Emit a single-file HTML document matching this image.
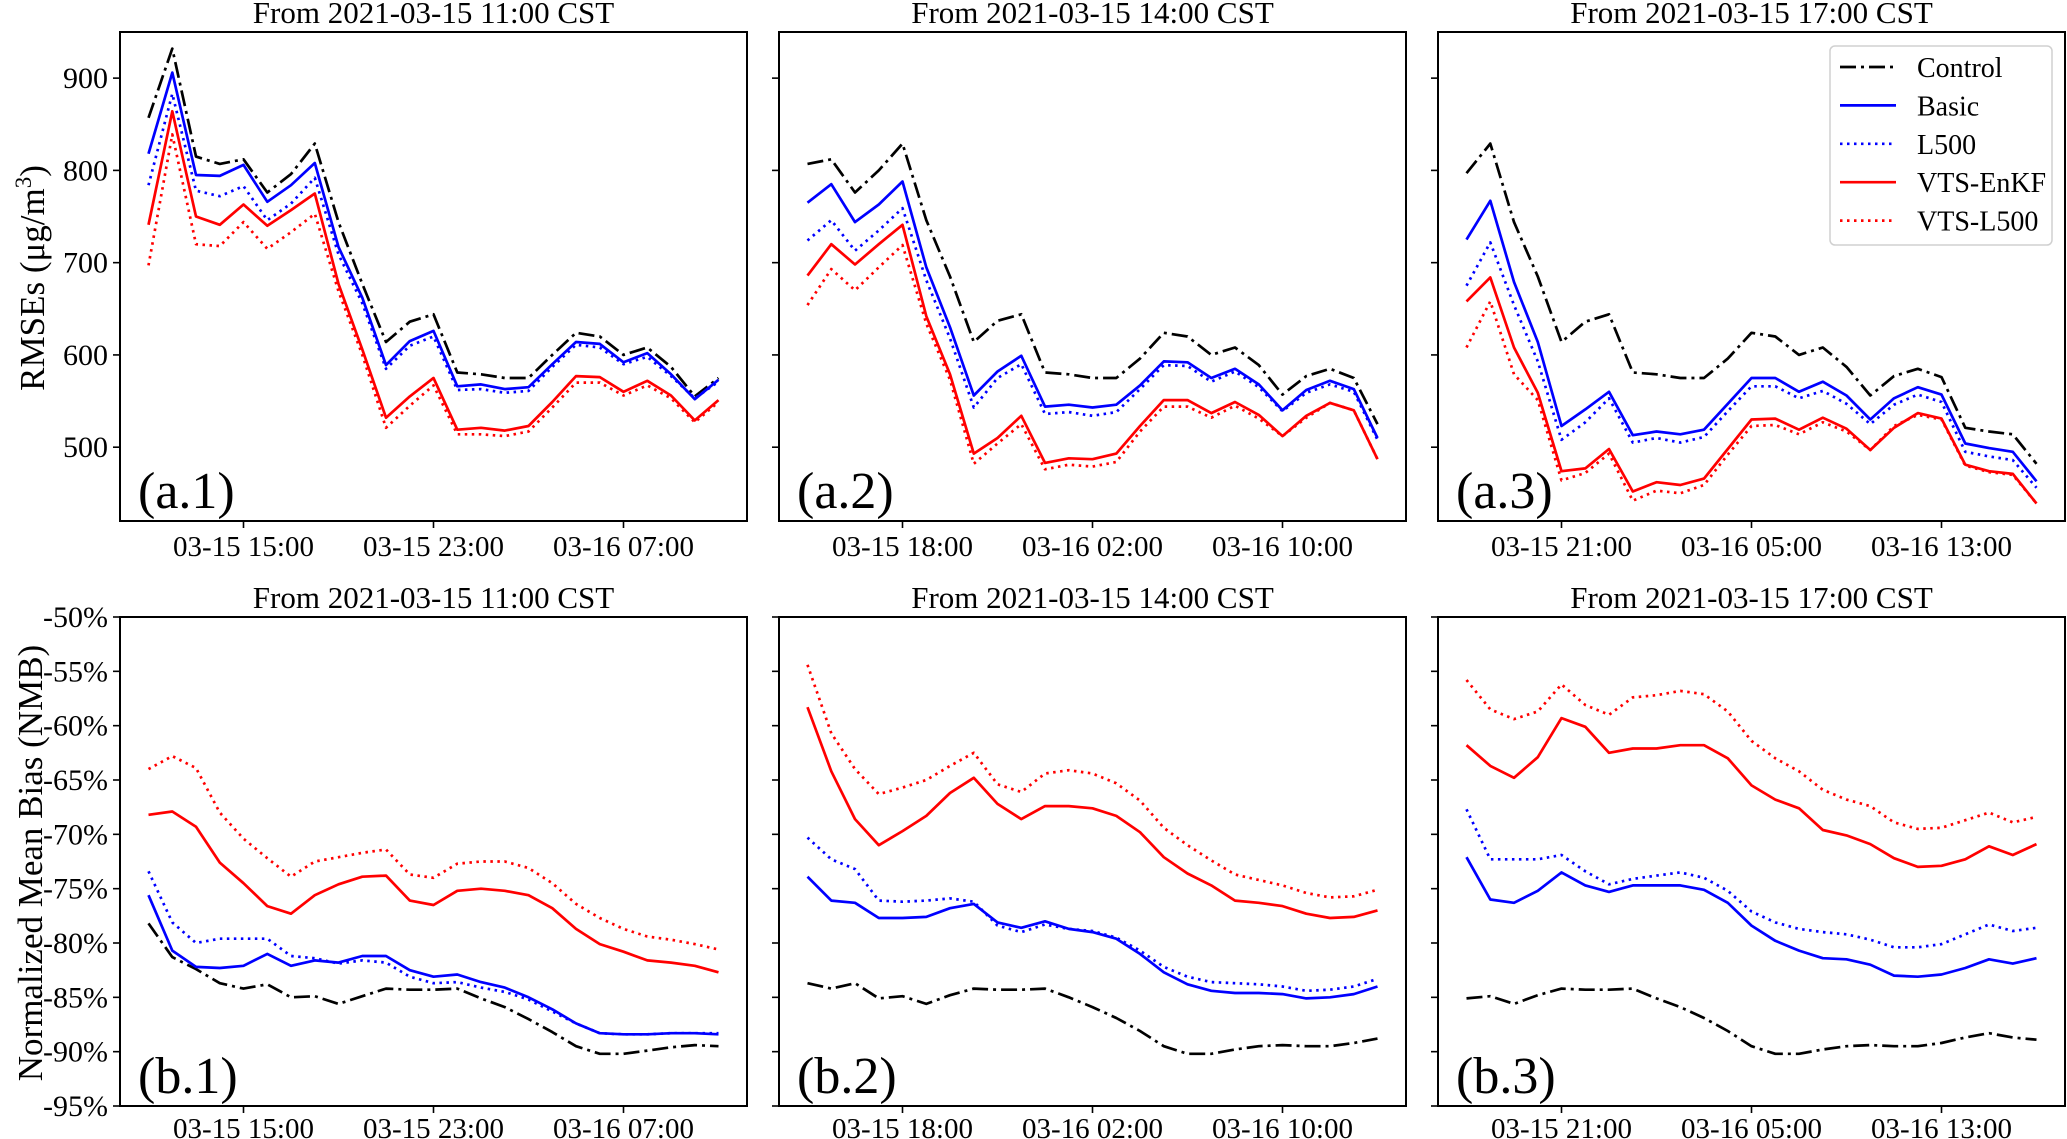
<!DOCTYPE html>
<html><head><meta charset="utf-8"><style>
html,body{margin:0;padding:0;background:#fff;}
svg{display:block;font-family:"Liberation Serif","DejaVu Serif",serif;}
</style></head><body>
<svg id="chart" width="2067" height="1139" viewBox="0 0 2067 1139" xmlns="http://www.w3.org/2000/svg"></svg>
<script>
const seriesNames = ["Control","Basic","L500","VTS-EnKF","VTS-L500"];
const startLabels = ["From 2021-03-15 11:00 CST","From 2021-03-15 14:00 CST","From 2021-03-15 17:00 CST"];
const xTickLabels1 = ["03-15 15:00","03-15 23:00","03-16 07:00"];
const xTickLabels2 = ["03-15 18:00","03-16 02:00","03-16 10:00"];
const xTickLabels3 = ["03-15 21:00","03-16 05:00","03-16 13:00"];
const xTickHours = [4,12,20];
const rmseTicks = [500,600,700,800,900];
const nmbTicks = [-50,-55,-60,-65,-70,-75,-80,-85,-90,-95];

// RMSE panel a.1
const a1Control = [857,932,815,807,812,776,796,829,744,677,614,636,644,581,579,575,575,600,624,620,600,608,587,555,575];
const a1Basic   = [818,906,795,794,806,766,784,808,717,662,589,615,626,566,568,563,565,590,614,612,592,602,579,552,573];
const a1L500    = [784,883,778,772,783,746,764,792,709,656,585,610,620,562,563,559,561,587,611,608,590,598,577,553,571];
const a1VtsEnkf = [741,864,750,741,763,740,757,775,677,606,532,555,575,519,521,518,523,549,577,576,560,572,556,529,551];
const a1VtsL500 = [697,839,720,718,744,715,733,753,669,600,521,545,567,514,514,512,517,543,570,570,556,567,553,527,549];
// RMSE panel a.2
const a2Control = [807,812,776,800,829,746,685,614,637,644,581,579,575,575,596,624,620,600,608,589,557,577,585,575,525];
const a2Basic   = [765,785,744,763,788,695,630,556,582,599,544,546,543,546,567,593,592,575,585,568,540,562,572,563,510];
const a2L500    = [724,746,713,735,759,681,618,543,575,590,536,538,534,538,563,589,588,571,582,565,539,559,568,560,508];
const a2VtsEnkf = [686,720,698,720,741,642,579,493,510,534,483,488,487,493,523,551,551,537,549,535,512,534,548,540,487];
const a2VtsL500 = [654,693,670,695,719,634,573,482,504,525,476,481,479,484,517,544,544,532,545,531,512,532,548,540,487];
// RMSE panel a.3
const a3Control = [797,829,744,685,614,636,644,581,579,575,575,596,624,620,600,608,587,556,577,585,576,521,517,514,482];
const a3Basic   = [725,767,679,614,523,541,560,513,517,514,519,547,575,575,560,571,556,530,553,565,557,504,499,495,463];
const a3L500    = [675,722,654,593,508,527,553,505,510,505,511,539,566,566,553,561,547,525,546,557,549,495,490,486,456];
const a3VtsEnkf = [658,684,608,559,474,477,498,452,462,459,466,498,530,531,519,532,520,497,521,537,531,481,474,471,439];
const a3VtsL500 = [608,658,579,551,464,472,493,442,453,450,459,492,523,524,514,527,517,497,523,535,530,480,473,470,439];
// NMB panel b.1
const b1Control = [-78.2,-81.3,-82.4,-83.7,-84.2,-83.8,-85.0,-84.9,-85.6,-84.9,-84.2,-84.3,-84.3,-84.2,-85.1,-85.9,-87.0,-88.2,-89.5,-90.2,-90.2,-89.9,-89.6,-89.4,-89.5];
const b1Basic   = [-75.6,-80.7,-82.2,-82.3,-82.1,-81.0,-82.1,-81.6,-81.8,-81.2,-81.2,-82.5,-83.1,-82.9,-83.6,-84.1,-85.0,-86.1,-87.4,-88.3,-88.4,-88.4,-88.3,-88.3,-88.4];
const b1L500    = [-73.4,-78.1,-80.0,-79.6,-79.6,-79.6,-81.2,-81.4,-81.9,-81.6,-81.8,-83.1,-83.7,-83.6,-84.1,-84.5,-85.2,-86.3,-87.4,-88.3,-88.4,-88.4,-88.3,-88.3,-88.3];
const b1VtsEnkf = [-68.2,-67.9,-69.3,-72.6,-74.5,-76.6,-77.3,-75.6,-74.6,-73.9,-73.8,-76.1,-76.5,-75.2,-75.0,-75.2,-75.6,-76.8,-78.7,-80.1,-80.8,-81.6,-81.8,-82.1,-82.7];
const b1VtsL500 = [-64.0,-62.8,-63.9,-68.0,-70.4,-72.2,-73.9,-72.5,-72.1,-71.7,-71.4,-73.7,-74.0,-72.7,-72.5,-72.5,-73.1,-74.5,-76.4,-77.7,-78.7,-79.4,-79.7,-80.1,-80.6];
// NMB panel b.2
const b2Control = [-83.7,-84.2,-83.7,-85.1,-84.9,-85.6,-84.8,-84.2,-84.3,-84.3,-84.2,-85.0,-85.9,-86.9,-88.1,-89.5,-90.2,-90.2,-89.8,-89.5,-89.4,-89.5,-89.5,-89.2,-88.8];
const b2Basic   = [-73.9,-76.1,-76.3,-77.7,-77.7,-77.6,-76.8,-76.4,-78.1,-78.6,-78.0,-78.7,-79.0,-79.6,-81.0,-82.7,-83.8,-84.4,-84.6,-84.6,-84.7,-85.1,-85.0,-84.7,-84.0];
const b2L500    = [-70.3,-72.3,-73.2,-76.1,-76.2,-76.1,-75.9,-76.2,-78.4,-79.0,-78.3,-78.7,-78.9,-79.5,-80.7,-82.2,-83.1,-83.6,-83.7,-83.8,-84.0,-84.4,-84.3,-84.0,-83.3];
const b2VtsEnkf = [-58.3,-64.2,-68.6,-71.0,-69.7,-68.3,-66.2,-64.8,-67.2,-68.6,-67.4,-67.4,-67.6,-68.3,-69.8,-72.1,-73.6,-74.7,-76.1,-76.3,-76.6,-77.3,-77.7,-77.6,-77.0];
const b2VtsL500 = [-54.4,-60.7,-64.0,-66.3,-65.7,-65.0,-63.7,-62.5,-65.4,-66.1,-64.4,-64.1,-64.4,-65.3,-66.9,-69.4,-71.0,-72.4,-73.7,-74.2,-74.7,-75.4,-75.8,-75.7,-75.1];
// NMB panel b.3
const b3Control = [-85.1,-84.9,-85.6,-84.8,-84.2,-84.3,-84.3,-84.2,-85.1,-85.9,-86.9,-88.1,-89.5,-90.2,-90.2,-89.8,-89.5,-89.4,-89.5,-89.5,-89.2,-88.7,-88.3,-88.7,-88.9];
const b3Basic   = [-72.1,-76.0,-76.3,-75.2,-73.5,-74.7,-75.3,-74.7,-74.7,-74.7,-75.1,-76.3,-78.4,-79.8,-80.7,-81.4,-81.5,-82.0,-83.0,-83.1,-82.9,-82.3,-81.5,-81.9,-81.4];
const b3L500    = [-67.7,-72.3,-72.3,-72.3,-71.9,-73.4,-74.6,-74.1,-73.8,-73.5,-74.0,-75.2,-77.1,-78.1,-78.7,-79.0,-79.2,-79.7,-80.4,-80.4,-80.1,-79.2,-78.3,-78.9,-78.6];
const b3VtsEnkf = [-61.8,-63.7,-64.8,-62.9,-59.3,-60.1,-62.5,-62.1,-62.1,-61.8,-61.8,-63.0,-65.5,-66.8,-67.6,-69.6,-70.1,-70.9,-72.2,-73.0,-72.9,-72.3,-71.1,-71.9,-70.9];
const b3VtsL500 = [-55.8,-58.5,-59.4,-58.7,-56.2,-58.1,-59.0,-57.4,-57.2,-56.8,-57.1,-58.7,-61.4,-63.0,-64.2,-65.9,-66.8,-67.4,-68.9,-69.5,-69.4,-68.7,-68.0,-68.9,-68.4];

const NS = "http://www.w3.org/2000/svg";
const svg = document.getElementById("chart");
function mk(tag, attrs, parent){
  const e = document.createElementNS(NS, tag);
  for (const k in attrs) e.setAttribute(k, attrs[k]);
  (parent||svg).appendChild(e);
  return e;
}
const styles = [
  {stroke:"#000", dash:"16,5,3,5"},
  {stroke:"#0000ff", dash:""},
  {stroke:"#0000ff", dash:"2.5,4.5"},
  {stroke:"#ff0000", dash:""},
  {stroke:"#ff0000", dash:"2.5,4.5"}
];
const colX = [120,779,1438];
const PW = 627;
const rows = [
  {top:32, bottom:521, ymin:420, ymax:950, ticks:rmseTicks, fmt:v=>String(v), tag:"a",
   data:[[a1Control,a1Basic,a1L500,a1VtsEnkf,a1VtsL500],[a2Control,a2Basic,a2L500,a2VtsEnkf,a2VtsL500],[a3Control,a3Basic,a3L500,a3VtsEnkf,a3VtsL500]],
   titleY:23, xlabY:556, ylabel:"RMSEs", ylabY:278, ylabX:32},
  {top:617, bottom:1106, ymin:-95, ymax:-50, ticks:nmbTicks, fmt:v=>v+"%", tag:"b",
   data:[[b1Control,b1Basic,b1L500,b1VtsEnkf,b1VtsL500],[b2Control,b2Basic,b2L500,b2VtsEnkf,b2VtsL500],[b3Control,b3Basic,b3L500,b3VtsEnkf,b3VtsL500]],
   titleY:608, xlabY:1138, ylabel:"Normalized Mean Bias (NMB)", ylabY:863, ylabX:30}
];
const xLabelSets = [xTickLabels1,xTickLabels2,xTickLabels3];

rows.forEach((row, ri) => {
  const yScale = v => row.bottom - (v - row.ymin) / (row.ymax - row.ymin) * (row.bottom - row.top);
  for (let c = 0; c < 3; c++) {
    const x0 = colX[c];
    const xScale = h => x0 + (h + 1.2) / 26.4 * PW;
    const g = mk("g", {});
    
    
    const t = mk("text", {x:x0+PW/2, y:row.titleY, "text-anchor":"middle", "font-size":"31"}, g);
    t.textContent = startLabels[c];
    
    
    row.data[c].forEach((arr, si) => {
      const pts = arr.map((v,i) => xScale(i).toFixed(1) + "," + yScale(v).toFixed(1)).join(" ");
      const st = styles[si];
      const pl = mk("polyline", {points:pts, fill:"none", stroke:st.stroke, "stroke-width":"2.7", "stroke-linejoin":"round"}, g);
      if (st.dash) pl.setAttribute("stroke-dasharray", st.dash);
      
      
    });
    const fr = mk("rect", {x:x0, y:row.top, width:PW, height:row.bottom-row.top, fill:"none", stroke:"#000", "stroke-width":"2"}, g);
    
    
    row.ticks.forEach(v => {
      const y = yScale(v);
      const tk = mk("line", {x1:x0-7, x2:x0, y1:y, y2:y, stroke:"#000", "stroke-width":"1.6"}, g);
      
      
      if (c === 0) {
        const tl = mk("text", {x:x0-12, y:y+10, "text-anchor":"end", "font-size":"30"}, g);
        tl.textContent = row.fmt(v);
        
        
      }
    });
    xTickHours.forEach((h, k) => {
      const x = xScale(h);
      const tk = mk("line", {x1:x, x2:x, y1:row.bottom, y2:row.bottom+7, stroke:"#000", "stroke-width":"1.6"}, g);
      
      
      const tl = mk("text", {x:x, y:row.xlabY, "text-anchor":"middle", "font-size":"29"}, g);
      tl.textContent = xLabelSets[c][k];
      
      
    });
    const pl = mk("text", {x:x0+18, y:row.bottom-13, "font-size":"52"}, g);
    pl.textContent = "(" + row.tag + "." + (c+1) + ")";
    
    
  }
  const yl = mk("text", {x:0, y:0, "text-anchor":"middle", "font-size":"35", transform:"translate(" + (row.ylabX+12) + "," + row.ylabY + ") rotate(-90)"});
  if (ri === 0) {
    yl.innerHTML = 'RMSEs (μg/m<tspan dy="-13" font-size="23">3</tspan><tspan dy="13">)</tspan>';
  } else {
    yl.textContent = row.ylabel;
  }
  
  
});

const lg = mk("g", {});


const lb = mk("rect", {x:1830, y:46, width:222, height:199, rx:5, fill:"#fff", "fill-opacity":"0.85", stroke:"#d0d0d0", "stroke-width":"1.5"}, lg);


seriesNames.forEach((n, i) => {
  const y = 67 + i * 38.4;
  const st = styles[i];
  const ln = mk("line", {x1:1840, x2:1896, y1:y, y2:y, stroke:st.stroke, "stroke-width":"2.7"}, lg);
  if (st.dash) ln.setAttribute("stroke-dasharray", st.dash);
  
  
  const tx = mk("text", {x:1917, y:y+10, "font-size":"28"}, lg);
  tx.textContent = n;
  
  
});
</script>
</body></html>
